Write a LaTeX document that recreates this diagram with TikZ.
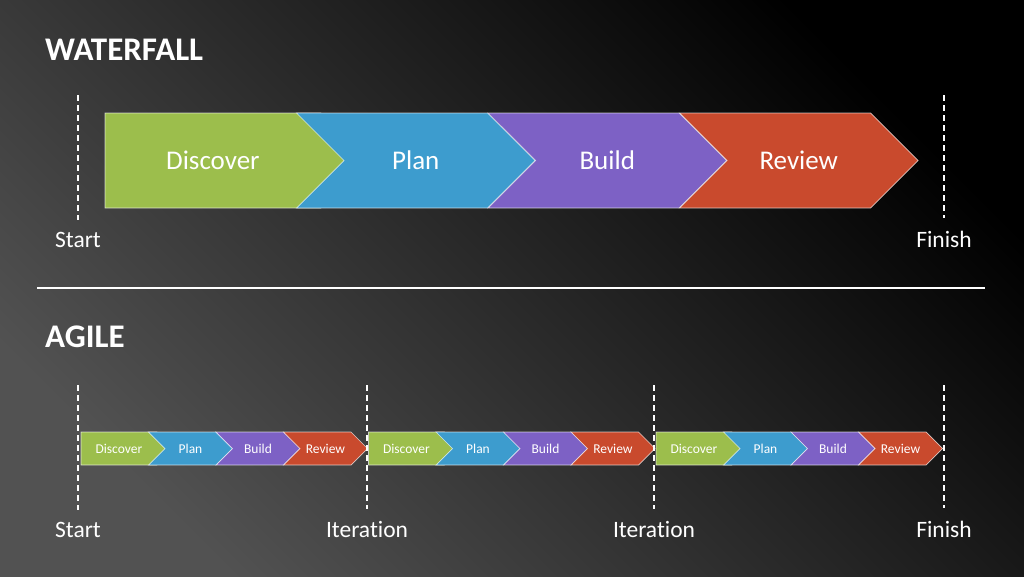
\documentclass[tikz,border=0pt]{standalone}
\usepackage{fontspec}
\setmainfont{Carlito}[Ligatures=NoCommon]
\usetikzlibrary{shapes.symbols, positioning}
\definecolor{stGreen}{HTML}{9CBE4C}
\definecolor{stBlue}{HTML}{3D9CCE}
\definecolor{stPurple}{HTML}{7D61C5}
\definecolor{stRed}{HTML}{C94A2D}

\begin{document}
\begin{tikzpicture}[x=1pt, y=-1pt,
        chev/.style={signal, signal to=east, signal pointer angle=90, draw=white, draw opacity=0.7,
            line width=0.7pt, text=white!92, inner sep=0pt},
        notch/.style={signal from=west},
        bigchev/.style={chev, minimum width=238.5pt, minimum height=95pt, font=\fontsize{27}{30}\selectfont},
        smallchev/.style={chev, minimum width=84pt, minimum height=33pt, font=\fontsize{13.5}{15}\selectfont},
        % the plain (first) signal loses half its pointer on the left
        bigfirst/.style={minimum width=263.25pt},
        smallfirst/.style={minimum width=92.25pt},
        lbl/.style={text=white, inner sep=0pt, anchor=base, font=\fontsize{23.5}{26}\selectfont},
        ttl/.style={text=white, inner sep=0pt, anchor=base west, font=\bfseries\fontsize{33}{36}\selectfont},
        guide/.style={white, line width=1.4pt, dash pattern=on 6pt off 4pt, shorten >=12pt},
        rule/.style={white, line width=1.3pt}]
        % background
        \shade[top color=black, middle color=black!86, bottom color=black!68, shading angle=-45] (0,0) rectangle (1024,576);
        % waterfall
        \node[ttl] (wtitle) at (45,60) {WATERFALL};
        \node[bigchev, bigfirst, fill=stGreen] (wdisc) at (212.9,160.5) {Discover};
        \node[bigchev, notch, fill=stBlue] (wplan) at (415.75,160.5) {Plan};
        \node[bigchev, notch, fill=stPurple] (wbuild) at (607.25,160.5) {Build};
        \node[bigchev, notch, fill=stRed] (wrev) at (798.75,160.5) {Review};
        \node[lbl] (wstart) at (78,247) {Start};
        \node[lbl] (wfin) at (944,247) {Finish};
        \coordinate (wstartT) at (78,95); \coordinate (wfinT) at (944,95);
        \draw[guide] (wstartT)--(wstart.north); \draw[guide] (wfinT)--(wfin.north);
        % divider
        \coordinate (divL) at (37,288); \coordinate (divR) at (985,288);
        \draw[rule] (divL)--(divR);
        % agile
        \node[ttl] (atitle) at (45,347) {AGILE};
        \foreach \g in {0,1,2} {
            \foreach \name/\col/\shp [count=\i from 0] in {Discover/stGreen/smallfirst, Plan/stBlue/notch,
                    Build/stPurple/notch, Review/stRed/notch} {
                \pgfmathsetmacro{\cx}{123 + 287.5*\g + 67.5*\i - 4.1*(\i==0)}
                \node[smallchev, \shp, fill=\col] (a\g\i) at (\cx,448.5) {\name};
            }
        }
        \node[lbl] (astart) at (78,537) {Start};
        \node[lbl] (aitA) at (367,537) {Iteration};
        \node[lbl] (aitB) at (654,537) {Iteration};
        \node[lbl] (afin) at (944,537) {Finish};
        \coordinate (astartT) at (78,385); \coordinate (aitAT) at (367,385);
        \coordinate (aitBT) at (654,385); \coordinate (afinT) at (944,385);
        \draw[guide] (astartT)--(astart.north); \draw[guide] (aitAT)--(aitA.north);
        \draw[guide] (aitBT)--(aitB.north); \draw[guide] (afinT)--(afin.north);
\end{tikzpicture}
\end{document}
